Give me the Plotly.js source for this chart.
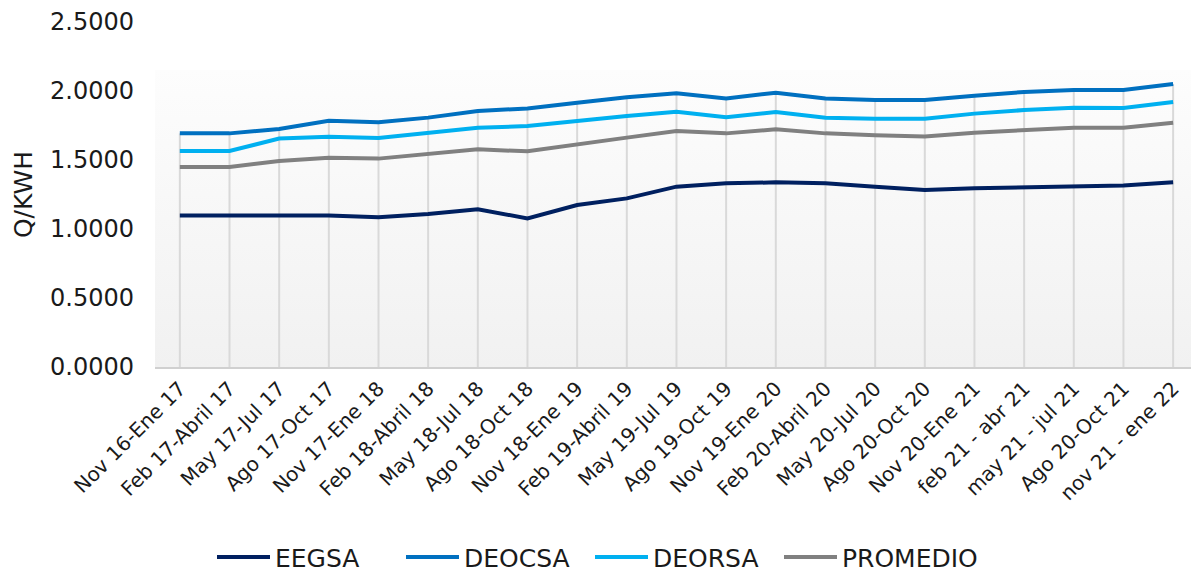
<!DOCTYPE html>
<html>
<head>
<meta charset="utf-8">
<script src="https://cdn.plot.ly/plotly-3.0.1.min.js"></script>
<style>html,body{margin:0;padding:0;background:#fff}#chart{width:1191px;height:572px}</style>
</head>
<body>
<div id="chart"></div>
<script>
const categories = ["Nov 16-Ene 17","Feb 17-Abril 17","May 17-Jul 17","Ago 17-Oct 17","Nov 17-Ene 18","Feb 18-Abril 18","May 18-Jul 18","Ago 18-Oct 18","Nov 18-Ene 19","Feb 19-Abril 19","May 19-Jul 19","Ago 19-Oct 19","Nov 19-Ene 20","Feb 20-Abril 20","May 20-Jul 20","Ago 20-Oct 20","Nov 20-Ene 21","feb 21 - abr 21","may 21 - jul 21","Ago 20-Oct 21","nov 21 - ene 22"];
const eegsa    = [1.097,1.097,1.097,1.097,1.085,1.109,1.143,1.077,1.174,1.222,1.307,1.331,1.338,1.331,1.307,1.283,1.295,1.302,1.316,1.316,1.338];
const deocsa   = [1.693,1.693,1.725,1.785,1.773,1.807,1.855,1.874,1.915,1.954,1.983,1.945,1.988,1.945,1.935,1.935,1.966,1.993,2.007,2.007,2.051];
const deorsa   = [1.565,1.565,1.655,1.669,1.659,1.700,1.734,1.746,1.785,1.819,1.850,1.809,1.848,1.807,1.799,1.799,1.836,1.862,1.879,1.877,1.920];
const promedio = [1.449,1.449,1.493,1.517,1.510,1.543,1.577,1.563,1.616,1.662,1.710,1.693,1.722,1.693,1.679,1.671,1.698,1.717,1.734,1.734,1.770];
const seriesNames = ["EEGSA","DEOCSA","DEORSA","PROMEDIO"];
const yTicks = [0, 0.5, 1.0, 1.5, 2.0, 2.5];

const colors = ["#002060","#0070C0","#00B0F0","#808080"];
const allSeries = [eegsa, deocsa, deorsa, promedio];

// Drop lines: from axis up to the highest series value at each category
const dropX = [], dropY = [];
categories.forEach((c, i) => {
  const m = Math.max(...allSeries.map(s => s[i]));
  dropX.push(c, c, null);
  dropY.push(0, m, null);
});

const traces = [{
  x: dropX, y: dropY, type: 'scatter', mode: 'lines',
  line: {color: '#d9d9d9', width: 2}, showlegend: false, hoverinfo: 'skip'
}];
allSeries.forEach((s, k) => {
  traces.push({
    x: categories, y: s, name: seriesNames[k], type: 'scatter', mode: 'lines',
    line: {color: colors[k], width: 4}
  });
});
// spacer legend entry (invisible) so the last legend label is not clipped
traces.push({
  x: [categories[0]], y: [null], name: ' ', type: 'scatter', mode: 'lines',
  line: {color: 'rgba(0,0,0,0)', width: 0}, hoverinfo: 'skip'
});

const grad = 'data:image/svg+xml;utf8,' + encodeURIComponent(
  '<svg xmlns="http://www.w3.org/2000/svg" width="100" height="100" preserveAspectRatio="none">' +
  '<defs><linearGradient id="g" x1="0" y1="0" x2="0" y2="1">' +
  '<stop offset="0" stop-color="#fdfdfd"/><stop offset="1" stop-color="#f1f1f1"/></linearGradient></defs>' +
  '<rect width="100" height="100" fill="url(#g)"/></svg>');

const FONT = 'DejaVu Sans';
const layout = {
  width: 1191, height: 572,
  margin: {l: 155, r: 0, t: 22, b: 205},
  paper_bgcolor: '#ffffff', plot_bgcolor: 'rgba(0,0,0,0)',
  font: {family: FONT, color: '#1a1a1a'},
  xaxis: {
    type: 'category', range: [-0.5, 20.36],
    showgrid: false, zeroline: false,
    showline: true, linecolor: '#d0d0d0', linewidth: 2,
    ticks: '', tickangle: -45, tickfont: {family: FONT, size: 20, color: '#1a1a1a'}
  },
  yaxis: {
    range: [0, 2.5], tickvals: yTicks, tickformat: '.4f',
    showgrid: false, zeroline: false, showline: false, ticks: '',
    tickfont: {family: FONT, size: 24, color: '#1a1a1a'}, ticklabelstandoff: 20,
    title: {text: 'Q/KWH', font: {family: FONT, size: 25, color: '#1a1a1a'}, standoff: 10}
  },
  images: [{
    source: grad, xref: 'paper', yref: 'paper', x: 0, y: 0.861, sizex: 1, sizey: 0.861,
    xanchor: 'left', yanchor: 'top', sizing: 'stretch', layer: 'below'
  }],
  legend: {
    orientation: 'h', xref: 'container', yref: 'container',
    x: 0.178, xanchor: 'left', y: 0.026, yanchor: 'middle',
    font: {size: 25, family: FONT, color: '#1a1a1a'},
    itemwidth: 53, entrywidth: 121,
    bgcolor: 'rgba(0,0,0,0)'
  },
  showlegend: true
};

Plotly.newPlot('chart', traces, layout, {displayModeBar: false, staticPlot: true});
</script>
</body>
</html>
